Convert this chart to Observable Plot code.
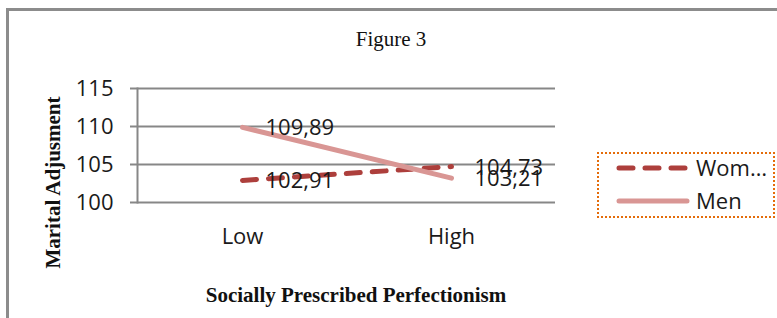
<!DOCTYPE html>
<html>
<head>
<meta charset="utf-8">
<script src="https://cdn.jsdelivr.net/npm/d3@7"></script>
<script src="https://cdn.jsdelivr.net/npm/@observablehq/plot@0.6"></script>
<style>
  html, body { margin: 0; padding: 0; background: #fff; overflow: hidden; }
  #wrap { position: relative; width: 777px; height: 318px; background: #fff; }
  #border { position: absolute; left: 6px; top: 8px; width: 900px; height: 400px;
            border-top: 3px solid #8c8c8c; border-left: 3px solid #8c8c8c; box-sizing: border-box; }
  #chart { position: absolute; left: 0; top: 0; }
  .serif { font-family: "Liberation Serif", "Times New Roman", serif; color: #111; position: absolute; white-space: nowrap; line-height: 21px; }
  #title { left: 291px; width: 200px; text-align: center; top: 29px; font-size: 21px; }
  #xtitle { left: 156px; width: 400px; text-align: center; top: 285px; font-size: 21px; font-weight: bold; }
  #ytitle { left: -47px; width: 200px; height: 21px; text-align: center; top: 172px; font-size: 21px; font-weight: bold; transform: rotate(-90deg); transform-origin: 50% 50%; }
  #legend { position: absolute; left: 597px; top: 152px; width: 178px; height: 66px; box-sizing: border-box;
            border: 2.5px dotted #E46C0A; }
  #legend svg { position: absolute; left: 0; top: 0; overflow: visible; }
</style>
</head>
<body>
<div id="wrap">
  <div id="border"></div>
  <div id="chart"></div>
  <div id="title" class="serif">Figure 3</div>
  <div id="ytitle" class="serif">Marital Adjusment</div>
  <div id="xtitle" class="serif">Socially Prescribed Perfectionism</div>
  <div id="legend"></div>
</div>
<script>
// ---- data ----
const categories = ["Low", "High"];
const seriesNames = ["Women", "Men"];
const legendLabels = ["Wom…", "Men"];
const women = [102.91, 104.73];
const men = [109.89, 103.21];
const yTicks = [100, 105, 110, 115];

const colors = {Women: "#AD3F3C", Men: "#D99694"};
const fmt = v => v.toFixed(2).replace(".", ",");

const rows = [];
categories.forEach((c, i) => {
  rows.push({series: "Women", cat: c, value: women[i]});
  rows.push({series: "Men", cat: c, value: men[i]});
});

const font = '"Open Sans", "Liberation Sans", sans-serif';
const fs = 22;

const chart = Plot.plot({
  width: 777,
  height: 318,
  marginLeft: 137,
  marginRight: 222,
  marginTop: 88,
  marginBottom: 116,
  style: {background: "transparent", fontFamily: font, fontSize: fs + "px", color: "#1a1a1a", overflow: "visible"},
  x: {type: "point", domain: categories, padding: 0.5, label: null},
  y: {domain: [100, 115], ticks: yTicks, label: null},
  marks: [
    Plot.ruleY(yTicks, {stroke: "#878787", strokeWidth: 2}),
    Plot.axisY({ticks: yTicks, tickSize: 7, tickPadding: 17, stroke: "#878787", strokeWidth: 2, strokeOpacity: 1, fill: "#1a1a1a", fontSize: fs, label: null}),
    Plot.frame({anchor: "left", stroke: "#878787", strokeWidth: 2}),
    Plot.axisX({tickSize: 0, tickPadding: 26, fill: "#1a1a1a", fontSize: fs, label: null}),
    Plot.line(rows.filter(d => d.series === "Women"), {x: "cat", y: "value", stroke: colors.Women, strokeWidth: 5, strokeDasharray: "14,12", strokeLinecap: "round"}),
    Plot.line(rows.filter(d => d.series === "Men"), {x: "cat", y: "value", stroke: colors.Men, strokeWidth: 5, strokeLinecap: "round"}),
    Plot.text(rows, {x: "cat", y: "value", text: d => fmt(d.value), dx: 23, dy: 1, textAnchor: "start", fill: "#1a1a1a", fontSize: fs})
  ]
});
document.getElementById("chart").appendChild(chart);

// ---- legend ----
const leg = d3.select("#legend").append("svg").attr("width", 178).attr("height", 66);
seriesNames.forEach((s, i) => {
  const y = i === 0 ? 14 : 47;
  leg.append("line").attr("x1", 20).attr("x2", 88).attr("y1", y).attr("y2", y)
    .attr("stroke", colors[s]).attr("stroke-width", 5).attr("stroke-linecap", "round")
    .attr("stroke-dasharray", s === "Women" ? "14,12" : null);
  leg.append("text").attr("x", 97).attr("y", y).attr("dy", "0.36em")
    .attr("font-family", font).attr("font-size", fs).attr("fill", "#1a1a1a")
    .text(legendLabels[i]);
});
</script>
</body>
</html>
